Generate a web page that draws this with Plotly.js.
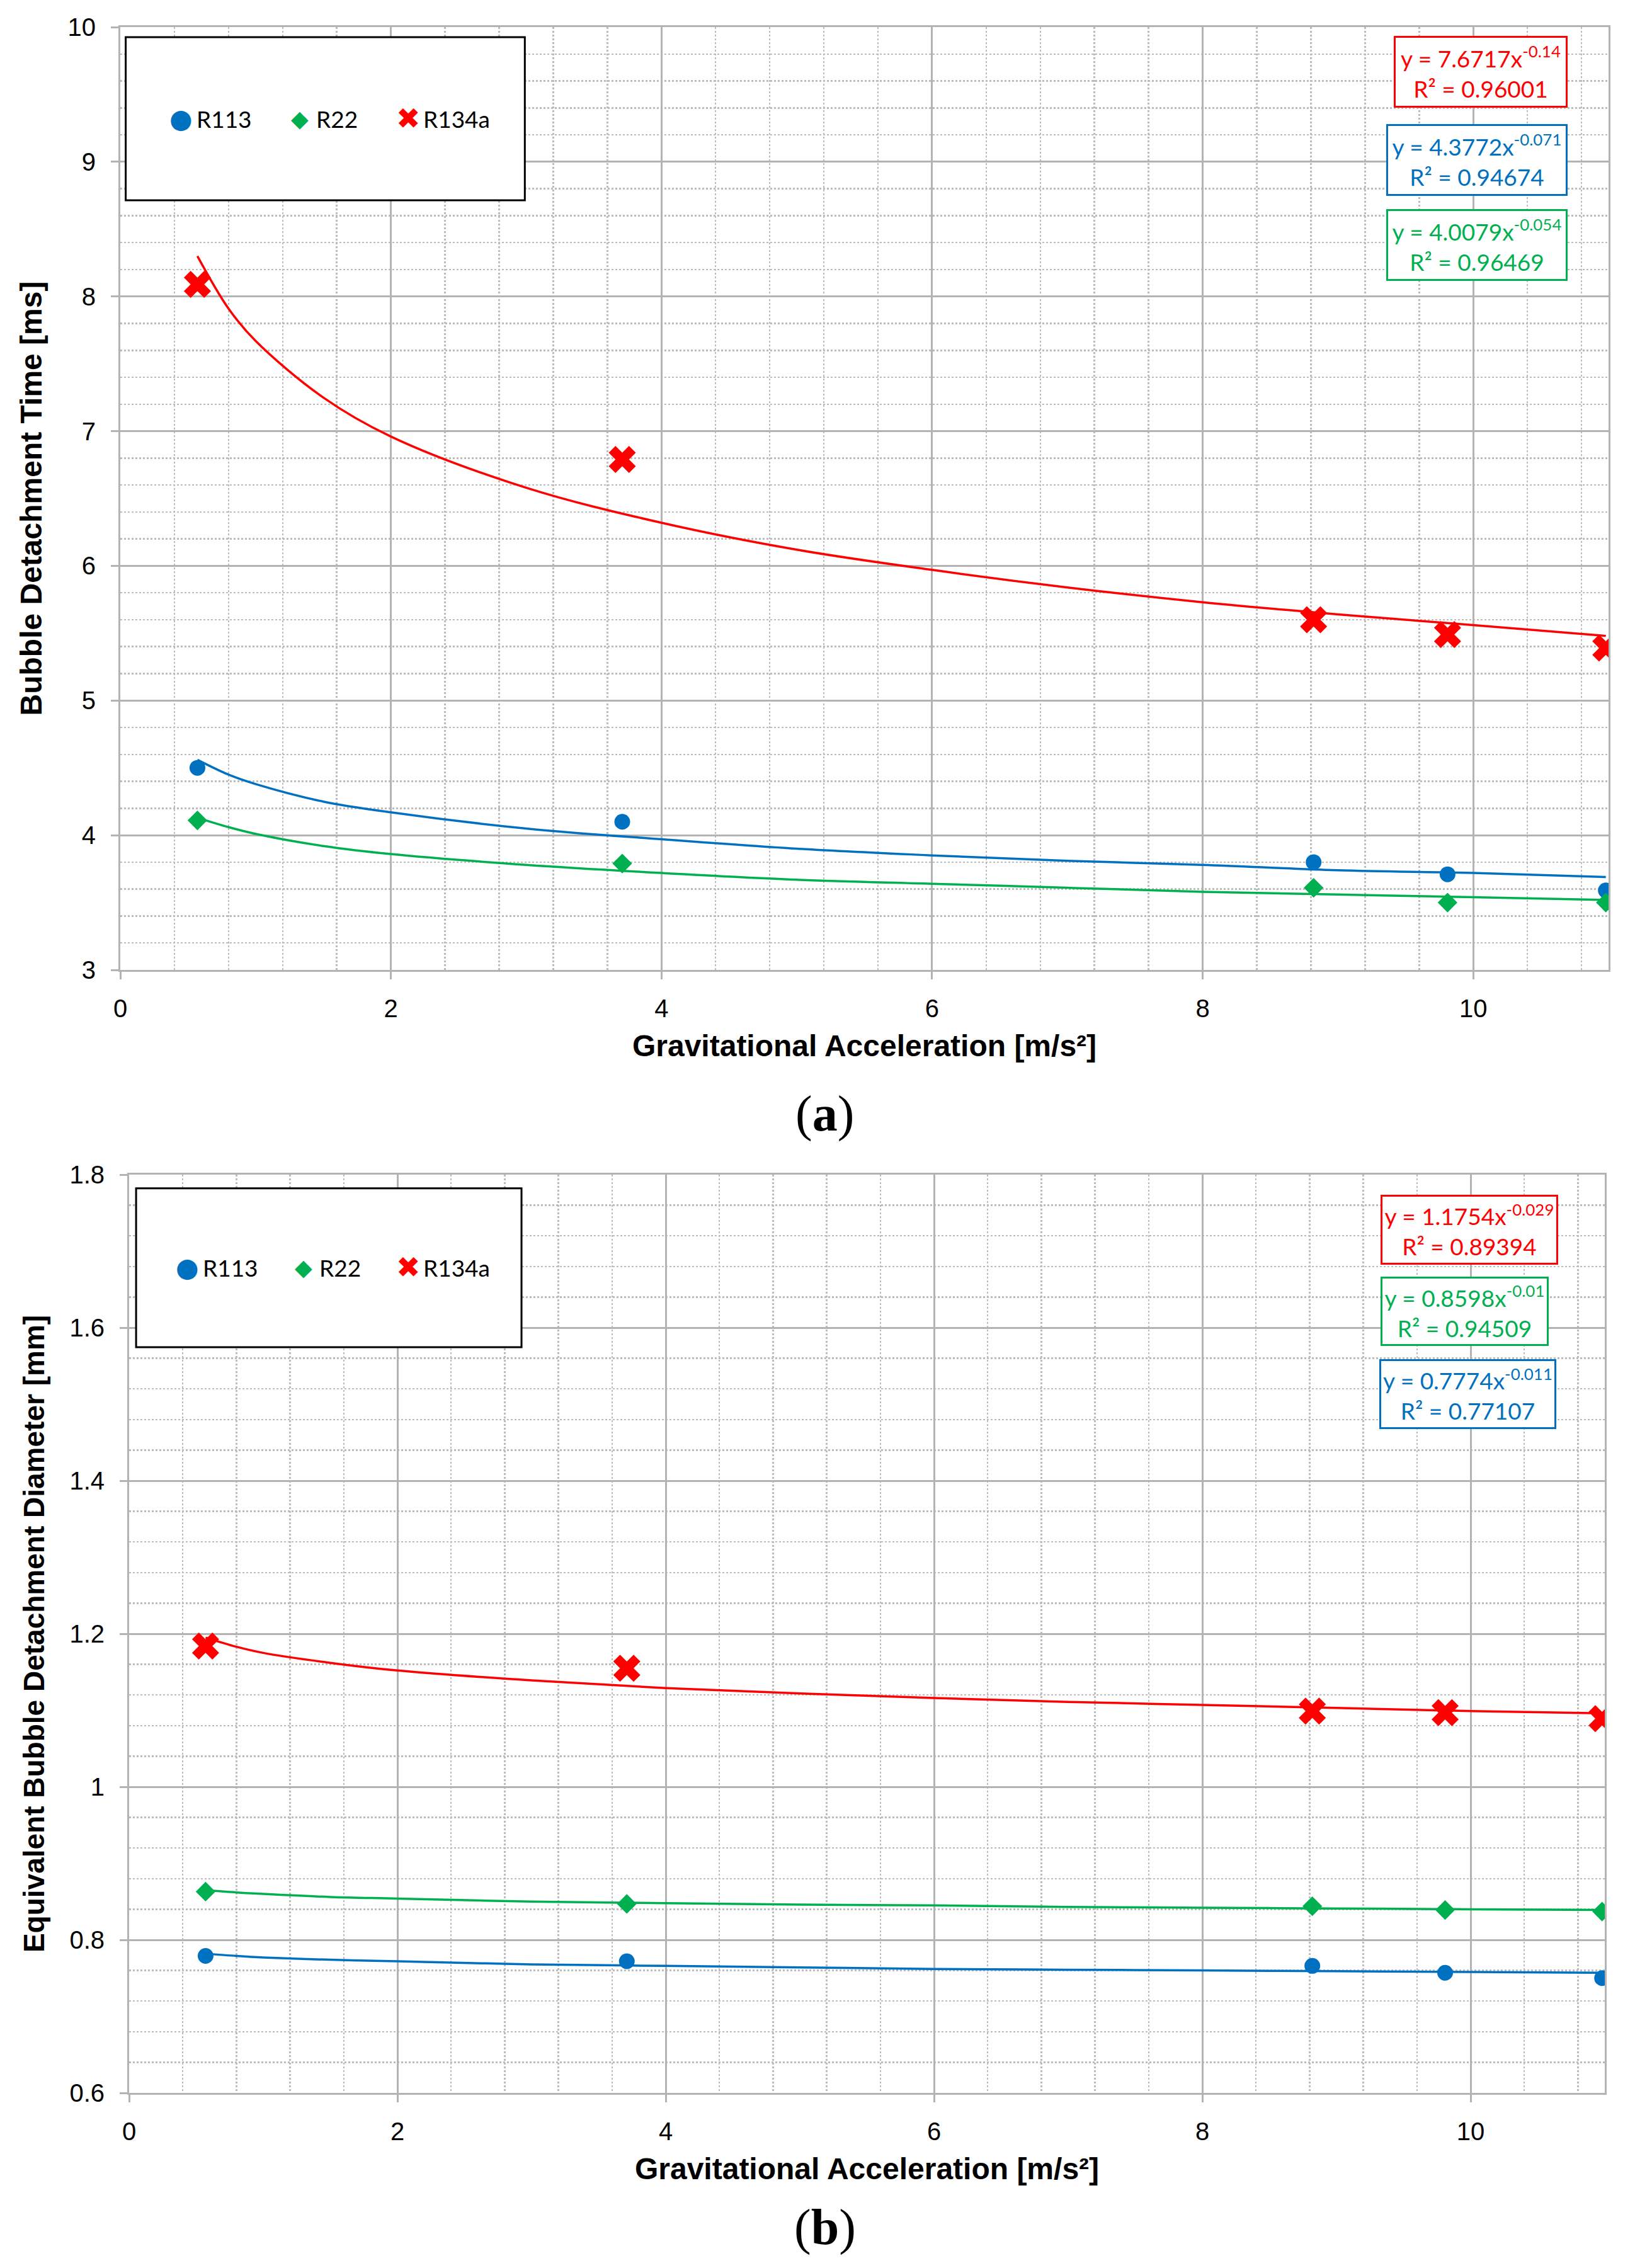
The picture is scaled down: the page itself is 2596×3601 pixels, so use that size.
<!DOCTYPE html>
<html>
<head>
<meta charset="utf-8">
<script src="https://cdn.plot.ly/plotly-3.0.1.min.js"></script>
<style>
html,body{margin:0;padding:0;background:#ffffff;}
#chart{width:2596px;height:3601px;}
</style>
</head>
<body>
<div id="chart"></div>
<script>
// ---------- data ----------
const seriesNames = ['R113', 'R22', 'R134a'];
const gravity = [0.57, 3.71, 8.82, 9.81, 10.98];

// (a) bubble detachment time [ms]
const timeR113  = [4.50, 4.10, 3.80, 3.71, 3.59];
const timeR22   = [4.11, 3.79, 3.61, 3.50, 3.50];
const timeR134a = [8.09, 6.79, 5.60, 5.49, 5.39];

// (b) equivalent bubble detachment diameter [mm]
const diamR113  = [0.779, 0.772, 0.766, 0.757, 0.750];
const diamR22   = [0.863, 0.847, 0.844, 0.839, 0.837];
const diamR134a = [1.184, 1.155, 1.099, 1.097, 1.089];

// power-law trendlines
const trendX = [0.57, 0.8, 1, 1.5, 2, 3, 4, 5, 6, 7, 8, 9, 10, 10.98];
const trendTimeR134a = [8.30, 7.91, 7.67, 7.25, 6.96, 6.58, 6.32, 6.12, 5.97, 5.84, 5.73, 5.64, 5.56, 5.48];
const trendTimeR113  = [4.56, 4.45, 4.38, 4.25, 4.17, 4.05, 3.97, 3.90, 3.85, 3.81, 3.78, 3.74, 3.72, 3.69];
const trendTimeR22   = [4.13, 4.06, 4.01, 3.92, 3.86, 3.78, 3.72, 3.67, 3.64, 3.61, 3.58, 3.56, 3.54, 3.52];
const trendDiamR134a = [1.195, 1.183, 1.175, 1.162, 1.152, 1.139, 1.129, 1.122, 1.116, 1.111, 1.107, 1.103, 1.099, 1.096];
const trendDiamR22   = [0.865, 0.862, 0.860, 0.856, 0.854, 0.850, 0.848, 0.846, 0.845, 0.843, 0.842, 0.841, 0.840, 0.839];
const trendDiamR113  = [0.782, 0.779, 0.777, 0.774, 0.772, 0.768, 0.766, 0.764, 0.762, 0.761, 0.760, 0.759, 0.758, 0.757];

// trendline equation labels
const eqTimeR134a = ['y = 7.6717x<sup>-0.14</sup>', 'R² = 0.96001'];
const eqTimeR113  = ['y = 4.3772x<sup>-0.071</sup>', 'R² = 0.94674'];
const eqTimeR22   = ['y = 4.0079x<sup>-0.054</sup>', 'R² = 0.96469'];
const eqDiamR134a = ['y = 1.1754x<sup>-0.029</sup>', 'R² = 0.89394'];
const eqDiamR22   = ['y = 0.8598x<sup>-0.01</sup>', 'R² = 0.94509'];
const eqDiamR113  = ['y = 0.7774x<sup>-0.011</sup>', 'R² = 0.77107'];

const xTitle  = 'Gravitational Acceleration [m/s²]';
const yTitleA = 'Bubble Detachment Time [ms]';
const yTitleB = 'Equivalent Bubble Detachment Diameter [mm]';

// ---------- styling ----------
const BLUE = '#0070C0', GREEN = '#00B050', RED = '#FF0000';
const GRID = '#b3b3b3', MINOR = '#bcbcbc';
const ARIAL = 'Arial, "Liberation Sans", sans-serif';
const CALIBRI = 'Lato, "Open Sans", sans-serif';
const tickFont  = {family: ARIAL, size: 40, color: '#000000'};

function xAxis(domain, anchor) {
  return {
    domain: domain, anchor: anchor, range: [0, 11], tick0: 0, dtick: 2,
    showgrid: true, gridcolor: GRID, gridwidth: 3, zeroline: false,
    showline: true, mirror: true, linecolor: GRID, linewidth: 3,
    ticks: 'outside', ticklen: 12, tickwidth: 3, tickcolor: GRID,
    tickfont: tickFont, ticklabelstandoff: 12,
    minor: {tick0: 0, dtick: 0.4, showgrid: true, gridcolor: MINOR, gridwidth: 2.5, griddash: 'dot'},
    title: {text: '<b>' + xTitle + '</b>', font: {family: ARIAL, size: 48, color: '#000'}, standoff: 22},
    automargin: false, fixedrange: true
  };
}
function yAxis(domain, anchor, range, dtick, minorDtick, title, tsize, fmt) {
  return {
    domain: domain, anchor: anchor, range: range, tick0: range[0], dtick: dtick,
    showgrid: true, gridcolor: GRID, gridwidth: 3, zeroline: false,
    showline: true, mirror: true, linecolor: GRID, linewidth: 3,
    ticks: 'outside', ticklen: 12, tickwidth: 3, tickcolor: GRID,
    tickfont: tickFont, ticklabelstandoff: 16, tickformat: fmt,
    minor: {tick0: range[0], dtick: minorDtick, showgrid: true, gridcolor: MINOR, gridwidth: 2.5, griddash: 'dot'},
    title: {text: '<b>' + title + '</b>', font: {family: ARIAL, size: tsize, color: '#000'}, standoff: 26},
    automargin: false, fixedrange: true
  };
}

function trendTrace(x, y, color, xa, ya) {
  return {x: x, y: y, xaxis: xa, yaxis: ya, type: 'scatter', mode: 'lines',
          line: {color: color, width: 3.5, shape: 'spline'}, showlegend: false, hoverinfo: 'skip'};
}
function pointTrace(name, x, y, color, symbol, size, xa, ya) {
  return {x: x, y: y, name: name, xaxis: xa, yaxis: ya, type: 'scatter', mode: 'markers',
          marker: {color: color, symbol: symbol, size: size, line: {width: 0}}, showlegend: false};
}

const traces = [
  trendTrace(trendX, trendTimeR134a, RED, 'x', 'y'),
  trendTrace(trendX, trendTimeR113, BLUE, 'x', 'y'),
  trendTrace(trendX, trendTimeR22, GREEN, 'x', 'y'),
  pointTrace(seriesNames[0], gravity, timeR113, BLUE, 'circle', 25, 'x', 'y'),
  pointTrace(seriesNames[1], gravity, timeR22, GREEN, 'diamond', 24, 'x', 'y'),
  pointTrace(seriesNames[2], gravity, timeR134a, RED, 'x', 38, 'x', 'y'),

  trendTrace(trendX, trendDiamR134a, RED, 'x2', 'y2'),
  trendTrace(trendX, trendDiamR22, GREEN, 'x2', 'y2'),
  trendTrace(trendX, trendDiamR113, BLUE, 'x2', 'y2'),
  pointTrace(seriesNames[0], gravity, diamR113, BLUE, 'circle', 25, 'x2', 'y2'),
  pointTrace(seriesNames[1], gravity, diamR22, GREEN, 'diamond', 24, 'x2', 'y2'),
  pointTrace(seriesNames[2], gravity, diamR134a, RED, 'x', 38, 'x2', 'y2')
];

function eqBox(lines, color, xa, ya, x, y, w, h) {
  return {xref: xa, yref: ya, x: x, y: y, xanchor: 'center', yanchor: 'middle',
          text: lines.join('<br>'), showarrow: false, align: 'center',
          font: {family: CALIBRI, size: 37, color: color},
          bordercolor: color, borderwidth: 3, borderpad: 0, bgcolor: '#ffffff',
          width: w, height: h};
}

const glyphs = ['●', '◆', '✖'];
const glyphColors = [BLUE, GREEN, RED];
const glyphSizes = [42, 36, 46];
function legendAnns(xa, ya, gx, tx, y) {
  const out = [];
  for (let i = 0; i < 3; i++) {
    out.push({xref: xa, yref: ya, x: gx[i], y: y, xanchor: 'center', yanchor: 'middle',
              text: glyphs[i], showarrow: false,
              font: {family: '"DejaVu Sans", sans-serif', size: glyphSizes[i], color: glyphColors[i]}});
    out.push({xref: xa, yref: ya, x: tx[i], y: y, xanchor: 'left', yanchor: 'middle',
              text: seriesNames[i], showarrow: false,
              font: {family: CALIBRI, size: 37, color: '#000000'}});
  }
  return out;
}

const annotations = [
  eqBox(eqTimeR134a, RED,   'x', 'y', 10.056, 9.668, 270, 108),
  eqBox(eqTimeR113,  BLUE,  'x', 'y', 10.028, 9.014, 282, 108),
  eqBox(eqTimeR22,   GREEN, 'x', 'y', 10.028, 8.382, 282, 108),
  eqBox(eqDiamR134a, RED,   'x2', 'y2', 9.991, 1.728, 276, 105),
  eqBox(eqDiamR22,   GREEN, 'x2', 'y2', 9.955, 1.6214, 261, 104),
  eqBox(eqDiamR113,  BLUE,  'x2', 'y2', 9.979, 1.5132, 275, 105),
  {xref: 'paper', yref: 'paper', x: 0.5046, y: 0.5088, xanchor: 'center', yanchor: 'middle',
   text: '(<b>a</b>)', showarrow: false, font: {family: '"Liberation Serif", "Times New Roman", serif', size: 80, color: '#000'}},
  {xref: 'paper', yref: 'paper', x: 0.5046, y: 0.0178, xanchor: 'center', yanchor: 'middle',
   text: '(<b>b</b>)', showarrow: false, font: {family: '"Liberation Serif", "Times New Roman", serif', size: 80, color: '#000'}}
].concat(
  legendAnns('x', 'y', [0.447, 1.327, 2.128], [0.554, 1.439, 2.230], 9.32),
  legendAnns('x2', 'y2', [0.432, 1.300, 2.080], [0.540, 1.408, 2.183], 1.679)
);

const shapes = [
  {type: 'rect', xref: 'x', yref: 'y', x0: 0.04, x1: 2.99, y0: 8.714, y1: 9.925,
   line: {color: '#000000', width: 3}, fillcolor: '#ffffff', layer: 'above'},
  {type: 'rect', xref: 'x2', yref: 'y2', x0: 0.052, x1: 2.925, y0: 1.5745, y1: 1.782,
   line: {color: '#000000', width: 3}, fillcolor: '#ffffff', layer: 'above'}
];

const layout = {
  width: 2596, height: 3601,
  margin: {l: 0, r: 0, t: 0, b: 0, pad: 0},
  paper_bgcolor: '#ffffff', plot_bgcolor: '#ffffff',
  showlegend: false,
  xaxis: xAxis([191 / 2596, 2554 / 2596], 'y'),
  yaxis: yAxis([1 - 1540 / 3601, 1 - 43 / 3601], 'x', [3, 10], 1, 0.2, yTitleA, 48, 'd'),
  xaxis2: xAxis([205 / 2596, 2548 / 2596], 'y2'),
  yaxis2: yAxis([1 - 3323 / 3601, 1 - 1865 / 3601], 'x2', [0.6, 1.8], 0.2, 0.04, yTitleB, 46, ''),
  annotations: annotations,
  shapes: shapes
};

Plotly.newPlot('chart', traces, layout, {staticPlot: true, displayModeBar: false});
</script>
</body>
</html>
